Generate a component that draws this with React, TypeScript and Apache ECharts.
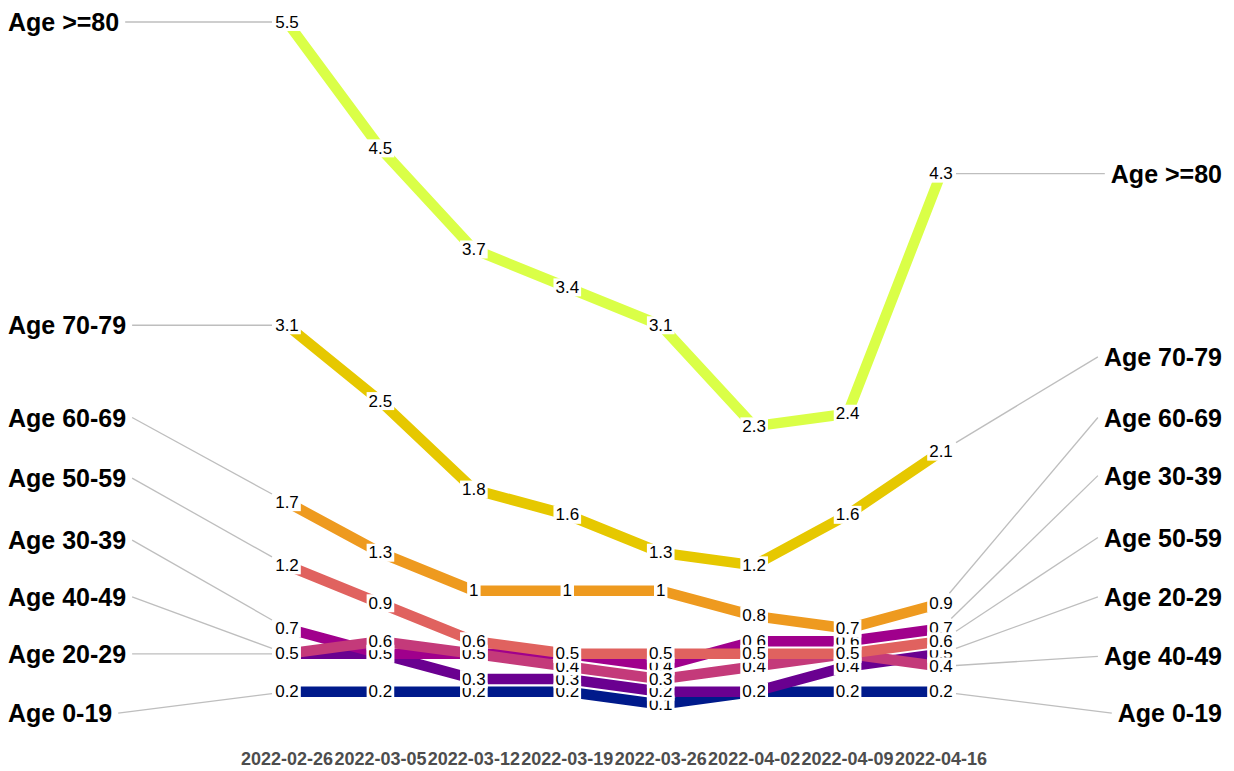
import React, { useEffect, useRef } from "react";
import * as echarts from "echarts";

const dates = ["2022-02-26", "2022-03-05", "2022-03-12", "2022-03-19", "2022-03-26", "2022-04-02", "2022-04-09", "2022-04-16"];
const ages = ["Age 0-19", "Age 20-29", "Age 30-39", "Age 40-49", "Age 50-59", "Age 60-69", "Age 70-79", "Age >=80"];

const age0_19 = [0.2, 0.2, 0.2, 0.2, 0.1, 0.2, 0.2, 0.2];
const age20_29 = [0.5, 0.5, 0.3, 0.3, 0.2, 0.2, 0.4, 0.5];
const age30_39 = [0.7, 0.5, 0.5, 0.5, 0.4, 0.6, 0.6, 0.7];
const age40_49 = [0.5, 0.6, 0.5, 0.4, 0.3, 0.4, 0.5, 0.4];
const age50_59 = [1.2, 0.9, 0.6, 0.5, 0.5, 0.5, 0.5, 0.6];
const age60_69 = [1.7, 1.3, 1, 1, 1, 0.8, 0.7, 0.9];
const age70_79 = [3.1, 2.5, 1.8, 1.6, 1.3, 1.2, 1.6, 2.1];
const age80 = [5.5, 4.5, 3.7, 3.4, 3.1, 2.3, 2.4, 4.3];

const values = [age0_19, age20_29, age30_39, age40_49, age50_59, age60_69, age70_79, age80];
const colors = ["#001A8B", "#6A0090", "#A0008C", "#C43A7A", "#E0625F", "#EE9A1F", "#E6C800", "#DAFF47"];

// repelled side-label positions (in data units)
const leftLabelY = [0.03, 0.5, 1.4, 0.95, 1.89, 2.37, 3.1, 5.5];
const rightLabelY = [0.03, 0.95, 1.91, 0.48, 1.42, 2.37, 2.85, 4.3];

const FONT = 'Arial, "Liberation Sans", sans-serif';

function measure(text: string, font: string): number {
  const c = document.createElement("canvas").getContext("2d");
  if (!c) return text.length * 12;
  c.font = font;
  return c.measureText(text).width;
}

function clip(px: number, py: number, tx: number, ty: number, hw: number, hh: number) {
  const dx = tx - px;
  const dy = ty - py;
  const t = Math.min(dx === 0 ? Infinity : hw / Math.abs(dx), dy === 0 ? Infinity : hh / Math.abs(dy));
  if (!isFinite(t) || t >= 1) return [px, py];
  return [px + dx * t, py + dy * t];
}

export default function App() {
  const ref = useRef<HTMLDivElement>(null);
  useEffect(() => {
    if (!ref.current) return;
    const chart = echarts.init(ref.current, undefined, { renderer: "svg" });
    const series = ages.map((name, i) => ({
      name,
      type: "line",
      data: values[i],
      symbol: "circle",
      symbolSize: 1,
      itemStyle: { color: colors[i] },
      lineStyle: { width: 10.5, color: colors[i], cap: "butt", join: "miter" },
      label: {
        show: true,
        position: "inside",
        formatter: (p: any) => String(p.value),
        fontFamily: FONT,
        fontSize: 17,
        color: "#000",
        backgroundColor: "#fff",
        padding: [1, 2, 0, 2],
      },
      emphasis: { disabled: true },
    }));
    chart.setOption({
      animation: false,
      grid: { left: 287, right: 293, top: 22, bottom: 54 },
      xAxis: {
        type: "category",
        data: dates,
        boundaryGap: false,
        axisLine: { show: false },
        axisTick: { show: false },
        splitLine: { show: false },
        axisLabel: {
          interval: 0,
          margin: 33,
          fontFamily: FONT,
          fontSize: 18,
          fontWeight: "bold",
          color: "#4D4D4D",
        },
      },
      yAxis: { type: "value", min: 0, max: 5.5, show: false },
      series,
    });

    const graphics: any[] = [];
    const labelFont = `bold 25px ${FONT}`;
    const lastIdx = dates.length - 1;
    ages.forEach((name, i) => {
      const w = measure(name, labelFont);
      // left
      const pL = chart.convertToPixel({ gridIndex: 0 }, [0, values[i][0]]) as number[];
      const lyL = (chart.convertToPixel({ gridIndex: 0 }, [0, leftLabelY[i]]) as number[])[1];
      const sxL = 8 + w + 6;
      const eL = clip(pL[0], pL[1], sxL, lyL, 15, 10);
      graphics.push({
        type: "line",
        shape: { x1: sxL, y1: lyL, x2: eL[0], y2: eL[1] },
        style: { stroke: "#BEBEBE", lineWidth: 1.3 },
        z: 1,
      });
      graphics.push({
        type: "text",
        x: 8,
        y: lyL,
        style: { text: name, font: labelFont, fill: "#000", textAlign: "left", textVerticalAlign: "middle" },
      });
      // right
      const pR = chart.convertToPixel({ gridIndex: 0 }, [lastIdx, values[i][lastIdx]]) as number[];
      const lyR = (chart.convertToPixel({ gridIndex: 0 }, [lastIdx, rightLabelY[i]]) as number[])[1];
      const exR = 1222 - w - 6;
      const sR = clip(pR[0], pR[1], exR, lyR, 15, 10);
      graphics.push({
        type: "line",
        shape: { x1: sR[0], y1: sR[1], x2: exR, y2: lyR },
        style: { stroke: "#BEBEBE", lineWidth: 1.3 },
        z: 1,
      });
      graphics.push({
        type: "text",
        x: 1222,
        y: lyR,
        style: { text: name, font: labelFont, fill: "#000", textAlign: "right", textVerticalAlign: "middle" },
      });
    });
    chart.setOption({ graphic: graphics });

    return () => chart.dispose();
  }, []);
  return (
    <div
      ref={ref}
      style={{ position: "fixed", left: 0, top: 0, width: 1234, height: 771, background: "#fff" }}
    />
  );
}
